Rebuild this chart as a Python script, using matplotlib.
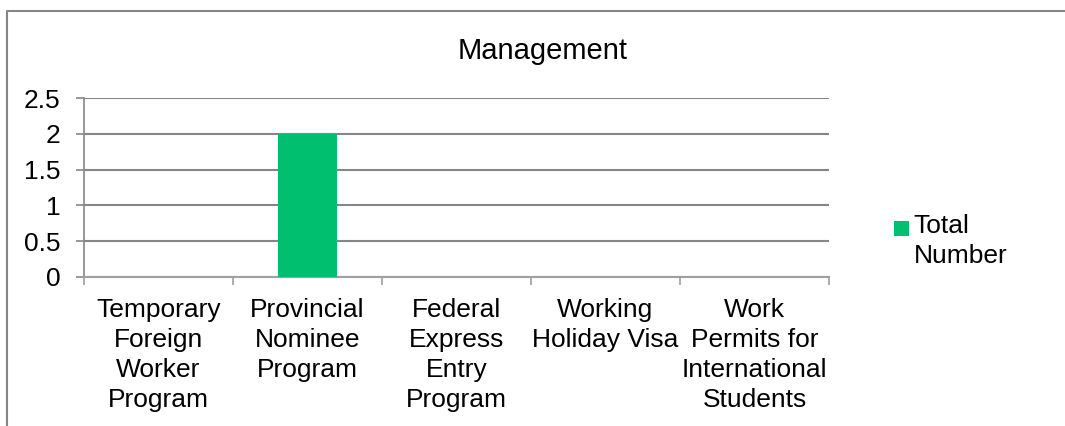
import matplotlib
matplotlib.use("Agg")
import matplotlib.pyplot as plt
from matplotlib.patches import Rectangle
from matplotlib.lines import Line2D
from matplotlib.container import BarContainer
from matplotlib.legend_handler import HandlerPatch

# chart data
categories = ["Temporary\nForeign\nWorker\nProgram",
              "Provincial\nNominee\nProgram",
              "Federal\nExpress\nEntry\nProgram",
              "Working\nHoliday Visa",
              "Work\nPermits for\nInternational\nStudents"]
total_number = [0, 2, 0, 0, 0]
y_ticks = [0, 0.5, 1, 1.5, 2, 2.5]
y_tick_labels = ["0", "0.5", "1", "1.5", "2", "2.5"]
series_name = "Total\nNumber"
title = "Management"

green = "#00BF6F"
grid_gray = "#868686"
axis_gray = "#A0A0A0"

plt.rcParams["font.family"] = ["Liberation Sans", "DejaVu Sans"]

W, H = 1065, 426
fig = plt.figure(figsize=(W / 100, H / 100), dpi=100)
ax = fig.add_axes([84 / W, 1 - 277 / H, (829 - 84) / W, (277 - 98) / H])

x = list(range(len(categories)))
ax.bar(x, total_number, width=0.4, color=green, zorder=3, label=series_name)

ax.set_xlim(-0.5, len(categories) - 0.5)
ax.set_ylim(0, 2.5)
ax.set_yticks(y_ticks)
ax.set_yticklabels(y_tick_labels)
ax.yaxis.grid(True, color=grid_gray, linewidth=1.5, zorder=0)
ax.set_axisbelow(True)

# category boundaries carry the tick marks, centres carry the labels
ax.set_xticks([i - 0.5 for i in range(len(categories) + 1)])
ax.set_xticklabels([])
ax.set_xticks(x, minor=True)
ax.set_xticklabels(categories, minor=True, linespacing=1.32)
ax.tick_params(axis="x", which="major", length=6, width=1.2, color=axis_gray, direction="out")
ax.tick_params(axis="x", which="minor", length=0, pad=15, labelsize=19)
ax.tick_params(axis="y", length=6, width=1.2, color=grid_gray, pad=11, labelsize=19)

for side in ["top", "right"]:
    ax.spines[side].set_visible(False)
ax.spines["left"].set_color(grid_gray)
ax.spines["left"].set_linewidth(1.2)
ax.spines["bottom"].set_color(axis_gray)
ax.spines["bottom"].set_linewidth(1.5)

fig.text(543 / W, 1 - 59 / H, title, ha="center", va="baseline", fontsize=21)


# square handle sitting next to the first label line
def top_square(legend, orig_handle, xdescent, ydescent, width, height, fontsize):
    return Rectangle((-xdescent, -ydescent + 0.5 * fontsize), width, width,
                     facecolor=green, edgecolor="none")


def keep_style(legend_handle, orig_handle):
    pass


handles, labels = ax.get_legend_handles_labels()
leg = fig.legend(handles, labels, loc="upper left", bbox_to_anchor=(894 / W, 1 - 214 / H),
                 frameon=False, fontsize=19, handlelength=0.55, handleheight=0.55,
                 handletextpad=0.2, borderpad=0, borderaxespad=0,
                 handler_map={BarContainer: HandlerPatch(patch_func=top_square,
                                                         update_func=keep_style)})
for t in leg.get_texts():
    t.set_linespacing(1.32)

# outer chart border: only the left and top edges fall inside the picture
fig.add_artist(Line2D([6.5 / W, 6.5 / W, 1.02], [-0.02, 1 - 11 / H, 1 - 11 / H],
                      transform=fig.transFigure, color=grid_gray, linewidth=1.5))

fig.savefig("out.png", dpi=100)
